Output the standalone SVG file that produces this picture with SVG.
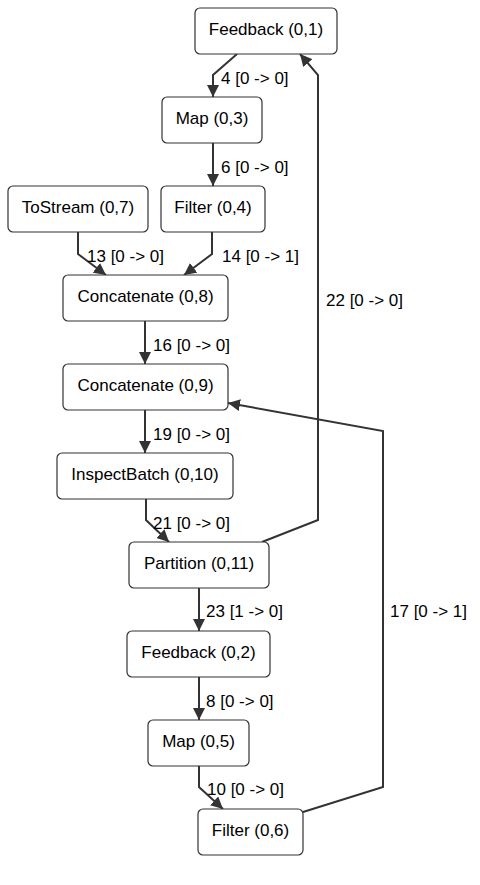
<svg xmlns="http://www.w3.org/2000/svg" width="480" height="885" viewBox="0 0 480 885">
<style>
.node rect{fill:#fff;stroke:#333;stroke-width:1.2}
.node text{font-family:"Liberation Sans",Arial,sans-serif;font-size:17px;fill:#000;text-anchor:middle}
.edge path{fill:none;stroke:#333;stroke-width:2}
.lbl{font-family:"Liberation Sans",Arial,sans-serif;font-size:17px;fill:#000}
</style>
<defs>
<marker id="arr" viewBox="0 0 10 10" refX="10" refY="5" markerWidth="12" markerHeight="12" markerUnits="userSpaceOnUse" orient="auto">
<path d="M0,0 L10,5 L0,10 z" fill="#333"/>
</marker>
</defs>
<rect width="480" height="885" fill="#fff"/>
<g id="connectors" class="edge">
<path d="M237,54 L213,75 L213,97" marker-end="url(#arr)"/>
<path d="M213,143 L213,186" marker-end="url(#arr)"/>
<path d="M78,232 L78,254 L106,275" marker-end="url(#arr)"/>
<path d="M212,232 L212,254 L184,275" marker-end="url(#arr)"/>
<path d="M145,321 L145,364" marker-end="url(#arr)"/>
<path d="M145,410 L145,453" marker-end="url(#arr)"/>
<path d="M146,499 L146,520 L169,542" marker-end="url(#arr)"/>
<path d="M262,542 L318,520 L318,75 L300,54" marker-end="url(#arr)"/>
<path d="M199,588 L199,631" marker-end="url(#arr)"/>
<path d="M199,677 L199,720" marker-end="url(#arr)"/>
<path d="M199,766 L199,787 L223,809" marker-end="url(#arr)"/>
<path d="M303,812 L383,787 L383,431 L228,403" marker-end="url(#arr)"/>
</g>
<g id="edge-labels">
<text class="lbl" x="221" y="84">4 [0 -&gt; 0]</text>
<text class="lbl" x="221" y="173">6 [0 -&gt; 0]</text>
<text class="lbl" x="87" y="262">13 [0 -&gt; 0]</text>
<text class="lbl" x="222" y="262">14 [0 -&gt; 1]</text>
<text class="lbl" x="326" y="306">22 [0 -&gt; 0]</text>
<text class="lbl" x="153" y="351">16 [0 -&gt; 0]</text>
<text class="lbl" x="153" y="440">19 [0 -&gt; 0]</text>
<text class="lbl" x="153" y="529">21 [0 -&gt; 0]</text>
<text class="lbl" x="206" y="617">23 [1 -&gt; 0]</text>
<text class="lbl" x="390" y="617">17 [0 -&gt; 1]</text>
<text class="lbl" x="206" y="707">8 [0 -&gt; 0]</text>
<text class="lbl" x="207" y="795">10 [0 -&gt; 0]</text>
</g>
<g id="feedback01" class="node"><rect x="195" y="8" width="142" height="46" rx="5"/><text x="266" y="35">Feedback (0,1)</text></g>
<g id="map03" class="node"><rect x="162" y="97" width="100" height="46" rx="5"/><text x="212" y="124">Map (0,3)</text></g>
<g id="tostream07" class="node"><rect x="8" y="186" width="140" height="46" rx="5"/><text x="78" y="213">ToStream (0,7)</text></g>
<g id="filter04" class="node"><rect x="161" y="186" width="104" height="46" rx="5"/><text x="213" y="213">Filter (0,4)</text></g>
<g id="concat08" class="node"><rect x="63" y="275" width="165" height="46" rx="5"/><text x="145.5" y="302">Concatenate (0,8)</text></g>
<g id="concat09" class="node"><rect x="63" y="364" width="165" height="46" rx="5"/><text x="145.5" y="391">Concatenate (0,9)</text></g>
<g id="inspect010" class="node"><rect x="57" y="453" width="176" height="46" rx="5"/><text x="145" y="480">InspectBatch (0,10)</text></g>
<g id="partition011" class="node"><rect x="129" y="542" width="140" height="46" rx="5"/><text x="199" y="569">Partition (0,11)</text></g>
<g id="feedback02" class="node"><rect x="127" y="631" width="143" height="46" rx="5"/><text x="198.5" y="658">Feedback (0,2)</text></g>
<g id="map05" class="node"><rect x="148" y="720" width="101" height="46" rx="5"/><text x="198.5" y="747">Map (0,5)</text></g>
<g id="filter06" class="node"><rect x="198" y="809" width="105" height="46" rx="5"/><text x="250.5" y="836">Filter (0,6)</text></g>
</svg>
